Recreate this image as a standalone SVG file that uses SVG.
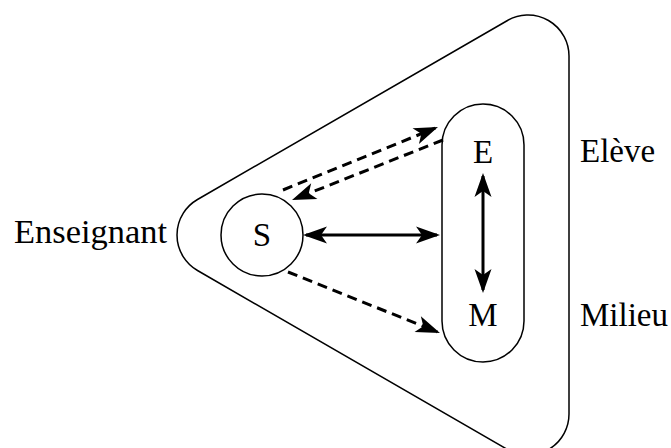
<svg xmlns="http://www.w3.org/2000/svg" width="671" height="448" viewBox="0 0 671 448">
  <style>
    .outline { fill: none; stroke: #000; stroke-width: 1.5; }
    .conn { fill: none; stroke: #000; stroke-width: 3; }
    .dash { stroke-dasharray: 10 6; }
    text { font-family: "Liberation Serif", "Times New Roman", serif; font-size: 33px; fill: #000; }
    .c { text-anchor: middle; }
  </style>
  <defs>
    <marker id="head" markerUnits="userSpaceOnUse" markerWidth="30" markerHeight="20" viewBox="-24 -10 30 20" refX="0" refY="0" orient="auto-start-reverse" overflow="visible">
      <path d="M 3 0 L -21 -8.5 L -15 0 L -21 8.5 Z" fill="#000"/>
    </marker>
  </defs>

  <g id="enseignant">
    <path class="outline" d="M 569 56 L 569 414 A 41 41 0 0 1 507.5 449.5 L 197.5 270.5 A 41 41 0 0 1 197.5 199.5 L 507.5 20.5 A 41 41 0 0 1 569 56 Z"/>
    <text x="14" y="243" textLength="153" lengthAdjust="spacingAndGlyphs">Enseignant</text>
  </g>

  <g id="S">
    <circle class="outline" cx="262" cy="235" r="41"/>
    <text class="c" x="262" y="246">S</text>
  </g>

  <g id="EM">
    <rect class="outline" x="442" y="104" width="82" height="258" rx="41" ry="41"/>
    <text class="c" x="483" y="163">E</text>
    <text class="c" x="483" y="326">M</text>
  </g>

  <g id="labels">
    <text x="580" y="162">Elève</text>
    <text x="580" y="326">Milieu</text>
  </g>

  <g id="connectors">
    <line class="conn" x1="306" y1="235" x2="437" y2="235" marker-start="url(#head)" marker-end="url(#head)"/>
    <line class="conn" x1="483" y1="176" x2="483" y2="290" marker-start="url(#head)" marker-end="url(#head)"/>
    <line class="conn dash" x1="283" y1="190" x2="435.2" y2="128.1" marker-end="url(#head)"/>
    <line class="conn dash" x1="443" y1="140" x2="294.8" y2="198.9" marker-end="url(#head)"/>
    <line class="conn dash" x1="288" y1="272" x2="437.2" y2="331.9" marker-end="url(#head)"/>
  </g>
</svg>
